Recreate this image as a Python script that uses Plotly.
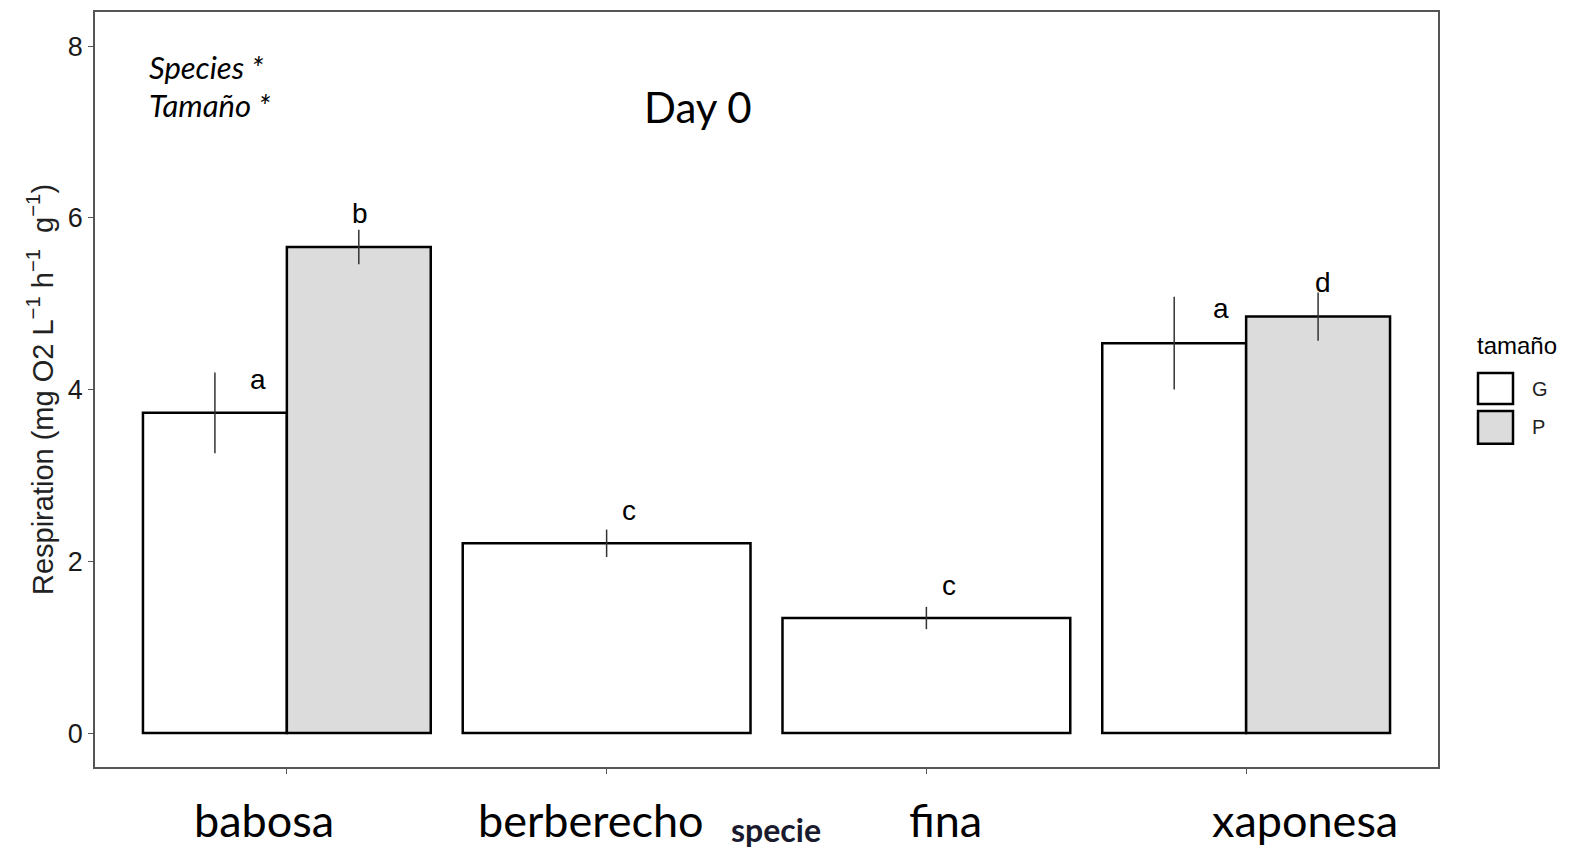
import plotly.graph_objects as go

# ---- data ----
species = ["babosa", "berberecho", "fina", "xaponesa"]
sizes = ["G", "P"]
resp_G = [3.73, 2.21, 1.34, 4.54]
err_G = [0.47, 0.16, 0.13, 0.54]
resp_P = [5.66, None, None, 4.85]
err_P = [0.20, None, None, 0.28]
letters_G = ["a", "c", "c", "a"]
letters_P = ["b", None, None, "d"]

# positions (index based)
xi = list(range(len(species)))
P_idx = [i for i, v in enumerate(resp_P) if v is not None]

# widths: dodged when both sizes present, full otherwise
full_w = 0.9
w_G = [full_w / 2 if resp_P[i] is not None else full_w for i in xi]
off_G = [-w / 2 if resp_P[i] is None else -full_w / 2 for i, w in zip(xi, w_G)]

fig = go.Figure()
fig.add_trace(go.Bar(
    x=xi, y=resp_G, width=w_G, offset=off_G, name="G",
    marker=dict(color="white", line=dict(color="black", width=2.5)),
    error_y=dict(type="data", array=err_G, width=0, thickness=1.5, color="#333333"),
    showlegend=False,
))
fig.add_trace(go.Bar(
    x=[xi[i] for i in P_idx], y=[resp_P[i] for i in P_idx],
    width=[full_w / 2] * len(P_idx), offset=[0] * len(P_idx), name="P",
    marker=dict(color="#DCDCDC", line=dict(color="black", width=2.5)),
    error_y=dict(type="data", array=[err_P[i] for i in P_idx], width=0, thickness=1.5, color="#333333"),
    showlegend=False,
))

annotations = []
# significance letters (offsets from bar positions, as in the reference)
letter_pos_G = [(-0.09, 4.12), (1.07, 2.59), (2.07, 1.72), (2.92, 4.94)]
letter_pos_P = {0: (0.23, 6.05), 3: (3.24, 5.25)}
for i, t in enumerate(letters_G):
    x, y = letter_pos_G[i]
    annotations.append(dict(x=x, y=y, xref="x", yref="y", text=t, showarrow=False,
                            font=dict(family="Liberation Sans, Arial", size=28, color="black")))
for i, t in enumerate(letters_P):
    if t is None:
        continue
    x, y = letter_pos_P[i]
    annotations.append(dict(x=x, y=y, xref="x", yref="y", text=t, showarrow=False,
                            font=dict(family="Liberation Sans, Arial", size=28, color="black")))

# category labels (overlaid text, shifted like the reference)
label_shift = [-0.07, -0.05, 0.06, 0.185]
for i, s in enumerate(species):
    annotations.append(dict(x=i + label_shift[i], y=-0.07, xref="x", yref="paper", text=s,
                            showarrow=False, yanchor="middle",
                            font=dict(family="Lato, Open Sans", size=45, color="black")))
annotations.append(dict(x=0.507, y=-0.083, xref="paper", yref="paper", text="<b>specie</b>",
                        showarrow=False, yanchor="middle",
                        font=dict(family="Lato, Open Sans", size=32, color="#1a1a2e")))

# title & stats text
annotations.append(dict(x=0.449, y=0.874, xref="paper", yref="paper", text="Day 0",
                        showarrow=False, yanchor="middle",
                        font=dict(family="Lato, Open Sans", size=42, color="black")))
annotations.append(dict(x=0.039, y=0.927, xref="paper", yref="paper", text="<i>Species *</i>",
                        showarrow=False, xanchor="left", yanchor="middle",
                        font=dict(family="Lato, Open Sans", size=31, color="black")))
annotations.append(dict(x=0.039, y=0.877, xref="paper", yref="paper", text="<i>Tamaño *</i>",
                        showarrow=False, xanchor="left", yanchor="middle",
                        font=dict(family="Lato, Open Sans", size=31, color="black")))

# manual legend
pw = 1343.0
ph = 757.0
def px(xp):
    return (xp - 95) / pw
def py(yp):
    return (767 - yp) / ph

annotations.append(dict(x=px(1475), y=py(344), xref="paper", yref="paper", text="tamaño",
                        showarrow=False, xanchor="left", yanchor="middle",
                        font=dict(family="Liberation Sans, Arial", size=24, color="black")))
shapes = []
legend_fill = {"G": "white", "P": "#DCDCDC"}
legend_y = {"G": (372, 403), "P": (410, 443)}
for s in sizes:
    y0, y1 = legend_y[s]
    shapes.append(dict(type="rect", xref="paper", yref="paper",
                       x0=px(1478), x1=px(1513), y0=py(y1), y1=py(y0),
                       fillcolor=legend_fill[s], line=dict(color="black", width=2.5)))
    annotations.append(dict(x=px(1530), y=py((y0 + y1) / 2), xref="paper", yref="paper", text=s,
                            showarrow=False, xanchor="left", yanchor="middle",
                            font=dict(family="Liberation Sans, Arial", size=20, color="#222222")))

fig.update_layout(
    width=1573, height=855,
    margin=dict(l=95, r=135, t=10, b=88),
    plot_bgcolor="white", paper_bgcolor="white",
    barmode="overlay",
    showlegend=False,
    annotations=annotations,
    shapes=shapes,
    xaxis=dict(range=[-0.6, 3.6], tickvals=xi, showticklabels=False,
               ticks="outside", ticklen=5, tickcolor="#555555", tickwidth=1,
               showline=True, mirror=True, linecolor="#555555", linewidth=1.5,
               showgrid=False, zeroline=False),
    yaxis=dict(range=[-0.395, 8.397], tickvals=[0, 2, 4, 6, 8],
               ticks="outside", ticklen=5, tickcolor="#555555", tickwidth=1,
               showline=True, mirror=True, linecolor="#555555", linewidth=1.5,
               showgrid=False, zeroline=False,
               tickfont=dict(family="Liberation Sans, Arial", size=27, color="#1a1a1a"),
               title=dict(text="Respiration (mg O2 L<sup>−1</sup> h<sup>−1</sup>  g<sup>−1</sup>)",
                          font=dict(family="Liberation Sans, Arial", size=29, color="#222222"),
                          standoff=6)),
)

fig.write_html("out.html")
